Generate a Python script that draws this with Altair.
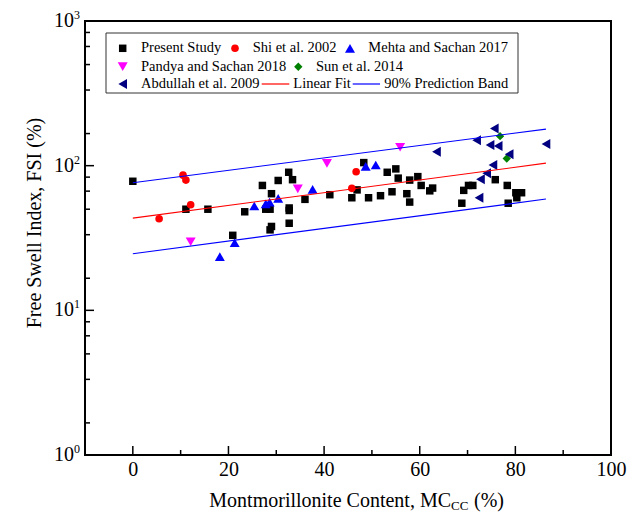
import altair as alt
import pandas as pd

# ---------------- data ----------------
ps_x = [0.0, 11.1, 15.7, 20.9, 23.4, 27.1, 27.8, 28.7, 29.0, 29.0, 28.7, 30.4, 32.6, 33.4, 32.7,
        32.7, 32.7, 36.0, 41.2, 45.8, 46.9, 48.3, 49.3, 51.8, 53.2, 55.0, 55.5, 54.2, 57.3, 57.9,
        57.9, 59.6, 60.3, 62.1, 62.7, 68.8, 69.2, 70.2, 71.1, 75.8, 78.3, 80.1, 81.3, 80.3, 78.5]
ps_y = [78, 50, 50, 33, 48, 73, 50, 50, 64, 38, 36, 79, 90, 80, 51,
        49, 40, 58.5, 63, 60, 68, 105, 60, 62, 90, 95, 82, 66, 64, 56,
        79.5, 84, 73, 67, 70, 55, 67.5, 73, 73, 80, 73, 65, 65, 60, 55]

shi_x = [10.5, 11.1, 12.1, 5.5, 46.7, 45.8]
shi_y = [86, 79.5, 53.7, 43, 90.8, 69.7]

meh_x = [18.2, 21.3, 25.4, 27.8, 28.6, 30.4, 37.6, 48.7, 50.8]
meh_y = [23.5, 29.3, 52.6, 54.5, 56, 59.4, 68.6, 99, 101]

pan_x = [12.1, 34.5, 40.6, 55.9]
pan_y = [29.8, 69.2, 103.7, 134]

sun_x = [76.8, 78.2]
sun_y = [160, 112]

abd_x = [63.5, 71.9, 72.4, 72.7, 74.0, 74.7, 75.3, 75.6, 76.4, 78.7, 86.4]
abd_y = [125, 150, 60, 80.4, 88.5, 139, 101, 181, 137, 120, 141]

series_names = ["Present Study", "Shi et al. 2002", "Mehta and Sachan 2017",
                "Pandya and Sachan 2018", "Sun et al. 2014", "Abdullah et al. 2009"]
series_x = [ps_x, shi_x, meh_x, pan_x, sun_x, abd_x]
series_y = [ps_y, shi_y, meh_y, pan_y, sun_y, abd_y]

line_x = [0.0, 86.4]
fit_y = [43.4, 104.0]
upper_y = [76.2, 179.0]
lower_y = [24.6, 58.8]

x_label_vals = [0, 20, 40, 60, 80, 100]
x_major = [0, 20, 40, 60, 80]
x_minor = [10, 30, 50, 70, 90]
y_major = [10, 100]
y_minor = [1.667, 3.333, 5, 6.667, 8.333, 16.67, 33.33, 50, 66.67, 83.33,
           166.7, 333.3, 500, 666.7, 833.3]
y_label_vals = [1, 10, 100, 1000]
y_label_sup = ["0", "1", "2", "3"]

# ---------------- styles ----------------
colors = ["#000000", "#FF0000", "#0000FF", "#FF00FF", "#008000", "#000080"]
shapes = ["square", "circle", "triangle-up", "triangle-down", "diamond", "triangle-left"]
sizes = [56, 58, 100, 100, 70, 100]
FONT = "Liberation Serif"
W, H = 526, 434

xs = alt.Scale(domain=[-10, 100], nice=False, zero=False)
ys = alt.Scale(type="log", domain=[1, 1000], nice=False)
x_axis = alt.Axis(values=x_label_vals, ticks=False, domain=False, grid=False, labelFlush=False,
                  labelFont=FONT, labelFontSize=20, labelColor="black", labelPadding=4, title=None)

layers = []

# legend box
layers.append(alt.Chart(pd.DataFrame({"a": [0]})).mark_rect(
    fill="white", stroke="#333333", strokeWidth=1).encode(
    x=alt.value(21), x2=alt.value(433), y=alt.value(12), y2=alt.value(72)))

# data points
for name, xv, yv, c, s, sz in zip(series_names, series_x, series_y, colors, shapes, sizes):
    df = pd.DataFrame({"x": xv, "y": yv, "series": name})
    layers.append(alt.Chart(df).mark_point(
        shape=s, filled=True, color=c, size=sz, opacity=1, strokeWidth=0).encode(
        x=alt.X("x:Q", scale=xs, axis=x_axis),
        y=alt.Y("y:Q", scale=ys, axis=None)))

# fit line and prediction band
fit_df = pd.DataFrame({"x": line_x, "y": fit_y})
band_df = pd.DataFrame({"x": line_x + line_x, "y": upper_y + lower_y,
                        "band": ["upper"] * 2 + ["lower"] * 2})
layers.append(alt.Chart(band_df).mark_line(color="#0000FF", strokeWidth=1.2).encode(
    x=alt.X("x:Q", scale=xs, axis=x_axis), y=alt.Y("y:Q", scale=ys, axis=None), detail="band:N"))
layers.append(alt.Chart(fit_df).mark_line(color="#FF0000", strokeWidth=1.2).encode(
    x=alt.X("x:Q", scale=xs, axis=x_axis), y=alt.Y("y:Q", scale=ys, axis=None)))

# inward ticks
layers.append(alt.Chart(pd.DataFrame({"v": x_major})).mark_rule(color="black", strokeWidth=1.5).encode(
    x=alt.X("v:Q", scale=xs, axis=x_axis), y=alt.value(H), y2=alt.value(H - 9)))
layers.append(alt.Chart(pd.DataFrame({"v": x_minor})).mark_rule(color="black", strokeWidth=1.5).encode(
    x=alt.X("v:Q", scale=xs, axis=x_axis), y=alt.value(H), y2=alt.value(H - 5)))
layers.append(alt.Chart(pd.DataFrame({"v": y_major})).mark_rule(color="black", strokeWidth=1.5).encode(
    y=alt.Y("v:Q", scale=ys, axis=None), x=alt.value(0), x2=alt.value(9)))
layers.append(alt.Chart(pd.DataFrame({"v": y_minor})).mark_rule(color="black", strokeWidth=1.5).encode(
    y=alt.Y("v:Q", scale=ys, axis=None), x=alt.value(0), x2=alt.value(5)))

# y tick labels 10^n
ylab_df = pd.DataFrame({"v": y_label_vals, "t": ["10"] * 4, "s": y_label_sup})
layers.append(alt.Chart(ylab_df).mark_text(
    align="right", baseline="middle", font=FONT, fontSize=20, color="black").encode(
    y=alt.Y("v:Q", scale=ys, axis=None), x=alt.value(-11), text="t:N"))
layers.append(alt.Chart(ylab_df).mark_text(
    align="left", baseline="middle", font=FONT, fontSize=12, color="black", dy=-6).encode(
    y=alt.Y("v:Q", scale=ys, axis=None), x=alt.value(-11), text="s:N"))

# axis titles
layers.append(alt.Chart(pd.DataFrame({"t": ["Free Swell Index, FSI (%)"]})).mark_text(
    angle=270, align="center", baseline="middle", font=FONT, fontSize=20, color="black").encode(
    x=alt.value(-50), y=alt.value(202), text="t:N"))
layers.append(alt.Chart(pd.DataFrame({"t": ["Montmorillonite Content, MC"]})).mark_text(
    align="right", baseline="alphabetic", font=FONT, fontSize=20, color="black").encode(
    x=alt.value(366), y=alt.value(486), text="t:N"))
layers.append(alt.Chart(pd.DataFrame({"t": ["CC"]})).mark_text(
    align="left", baseline="alphabetic", font=FONT, fontSize=13, color="black").encode(
    x=alt.value(366), y=alt.value(489), text="t:N"))
layers.append(alt.Chart(pd.DataFrame({"t": ["(%)"]})).mark_text(
    align="left", baseline="alphabetic", font=FONT, fontSize=20, color="black").encode(
    x=alt.value(389), y=alt.value(486), text="t:N"))

# legend entries
leg_sym_pos = [(37.7, 27.3), (150, 27.3), (265, 27.3), (37.7, 45.7), (213.3, 45.7), (37.7, 63)]
leg_txt_pos = [(56, 27.3), (167.7, 27.3), (283.3, 27.3), (56, 45.7), (231, 45.7), (56, 63)]
for name, c, s, sz, (sx, sy), (tx, ty) in zip(series_names, colors, shapes, sizes, leg_sym_pos, leg_txt_pos):
    d = pd.DataFrame({"t": [name]})
    layers.append(alt.Chart(d).mark_point(
        shape=s, filled=True, color=c, size=sz, opacity=1, strokeWidth=0).encode(
        x=alt.value(sx), y=alt.value(sy)))
    layers.append(alt.Chart(d).mark_text(
        align="left", baseline="middle", font=FONT, fontSize=14.5, color="black").encode(
        x=alt.value(tx), y=alt.value(ty), text="t:N"))

line_leg = [("Linear Fit", "#FF0000", 176.7, 204.3, 208.3),
            ("90% Prediction Band", "#0000FF", 267.7, 295, 299.3)]
for lab, c, x1, x2, tx in line_leg:
    d = pd.DataFrame({"t": [lab]})
    layers.append(alt.Chart(d).mark_rule(color=c, strokeWidth=1.2).encode(
        x=alt.value(x1), x2=alt.value(x2), y=alt.value(63)))
    layers.append(alt.Chart(d).mark_text(
        align="left", baseline="middle", font=FONT, fontSize=14.5, color="black").encode(
        x=alt.value(tx), y=alt.value(63), text="t:N"))

chart = alt.layer(*layers).properties(
    width=W, height=H,
    padding={"left": 77, "top": 13, "right": 25, "bottom": 58},
    autosize=alt.AutoSizeParams(type="none"),
    background="white",
).configure_view(stroke="black", strokeWidth=2)

chart.save("out.html", embed_options={"renderer": "svg", "actions": False})
